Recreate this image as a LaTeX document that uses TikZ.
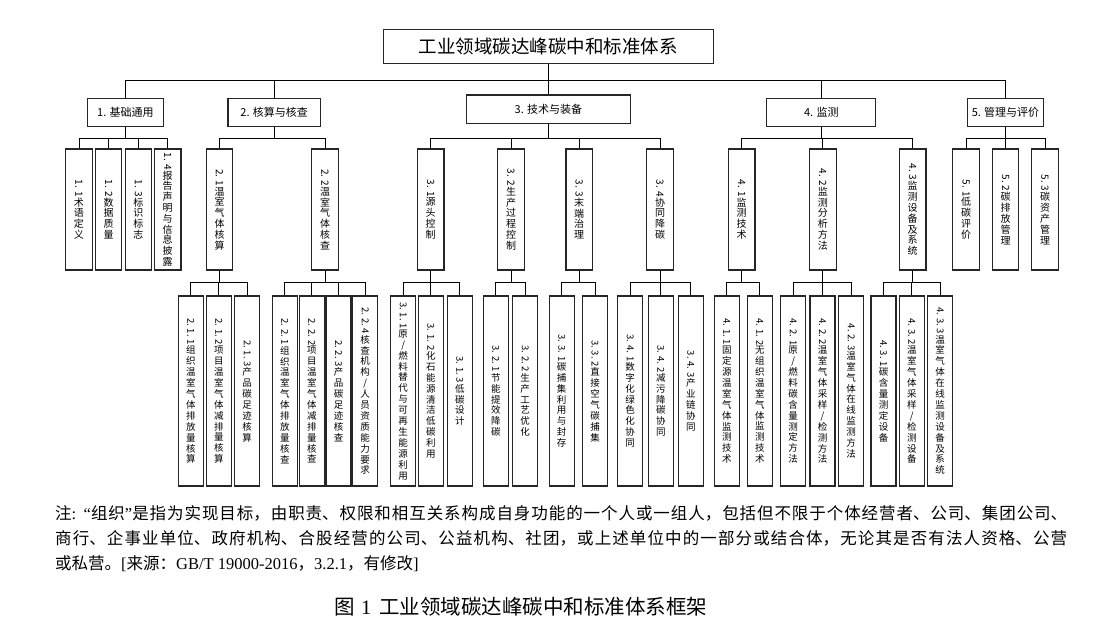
\documentclass[tikz,border=0pt]{standalone}
\usepackage{graphicx}
\usepackage{fontspec}
\setmainfont{Liberation Serif}
\newfontfamily\cjk{Noto Sans CJK SC}
\usetikzlibrary{positioning}

% vertical text: rotated number, then one character per line
\def\stackchars#1{\ifx\relax#1\expandafter\stackstop\else\expandafter\stackone\fi{#1}}
\def\stackone#1{\\#1\stackchars}
\def\stackstop#1{}
\newcommand\vlabel[2]{\rotatebox[origin=c]{-90}{#1}\stackchars#2\relax}

\begin{document}
\begin{tikzpicture}[x=1pt, y=-1pt,
    rootbox/.style={draw=black!85, line width=1.1pt, minimum width=329.6pt, minimum height=34pt,
      inner sep=0pt, font=\cjk\fontsize{18.5}{20}\selectfont},
    topicbox/.style={draw=black!85, line width=1.1pt, minimum height=28.4pt, inner sep=0pt,
      font=\cjk\fontsize{11}{13}\selectfont},
    colbox/.style={draw=black!85, line width=1.1pt, minimum width=26.5pt, minimum height=121pt,
      inner sep=0pt, align=center, font=\cjk\fontsize{10}{10.8}\selectfont},
    leafbox/.style={draw=black!85, line width=1.1pt, minimum width=25pt, minimum height=190pt,
      inner sep=0pt, align=center, font=\cjk\fontsize{9.5}{10.9}\selectfont},
    link/.style={draw=black, line width=0.8pt},
    elbow/.style={to path={(\tikztostart) |- (\tikztotarget |- #1) -- (\tikztotarget)}},
    notetext/.style={text width=1012pt, align=justify, inner sep=0pt,
      font=\cjk\fontsize{16.5}{25}\selectfont},
    captiontext/.style={inner sep=0pt, font=\cjk\fontsize{20.5}{22}\selectfont}]
  \useasboundingbox (0,0) rectangle (1108,634);

  \coordinate (bustop) at (0,80);
  \coordinate (busmid) at (0,138.3);
  \coordinate (buslow) at (0,282);

  \node[rootbox] (system) at (548.4,46.3) {工业领域碳达峰碳中和标准体系};

  \node[topicbox, minimum width=75.7pt] (basics) at (125.4,112.5) {1. 基础通用};
  \node[topicbox, minimum width=92.5pt] (accounting) at (274.2,112.5) {2. 核算与核查};
  \node[topicbox, minimum width=164.6pt] (technology) at (548.4,109.2) {3. 技术与装备};
  \node[topicbox, minimum width=109pt] (monitoring) at (821.3,112.5) {4. 监测};
  \node[topicbox, minimum width=76pt] (management) at (1005.5,112.5) {5. 管理与评价};

  \node[colbox] (terms) at (78.9,209.5) {\vlabel{1. 1}{术语定义}};
  \node[colbox] (dataq) at (108.6,209.5) {\vlabel{1. 2}{数据质量}};
  \node[colbox] (labels) at (138.4,209.5) {\vlabel{1. 3}{标识标志}};
  \node[colbox] (reports) at (167.7,209.5) {\vlabel{1. 4}{报告声明与信息披露}};
  \node[colbox] (ghgcalc) at (219.5,209.5) {\vlabel{2. 1}{温室气体核算}};
  \node[colbox] (ghgcheck) at (325,209.5) {\vlabel{2. 2}{温室气体核查}};
  \node[colbox] (source) at (430.7,209.5) {\vlabel{3. 1}{源头控制}};
  \node[colbox] (process) at (511,209.5) {\vlabel{3. 2}{生产过程控制}};
  \node[colbox] (endpipe) at (579.2,209.5) {\vlabel{3. 3}{末端治理}};
  \node[colbox] (synergy) at (660,209.5) {\vlabel{3. 4}{协同降碳}};
  \node[colbox] (montech) at (741.7,209.5) {\vlabel{4. 1}{监测技术}};
  \node[colbox] (analysis) at (822.8,209.5) {\vlabel{4. 2}{监测分析方法}};
  \node[colbox] (devices) at (912.7,209.5) {\vlabel{4. 3}{监测设备及系统}};
  \node[colbox] (lowcarbon) at (966,209.5) {\vlabel{5. 1}{低碳评价}};
  \node[colbox] (emission) at (1005.6,209.5) {\vlabel{5. 2}{碳排放管理}};
  \node[colbox] (assets) at (1045,209.5) {\vlabel{5. 3}{碳资产管理}};

  \node[leafbox] (orgcalc) at (190.8,391) {\vlabel{2. 1. 1}{组织温室气体排放量核算}};
  \node[leafbox] (projcalc) at (218.8,391) {\vlabel{2. 1. 2}{项目温室气体减排量核算}};
  \node[leafbox] (prodcalc) at (247.2,391) {\vlabel{2. 1. 3}{产品碳足迹核算}};
  \node[leafbox] (orgcheck) at (284.8,391) {\vlabel{2. 2. 1}{组织温室气体排放量核查}};
  \node[leafbox] (projcheck) at (311.8,391) {\vlabel{2. 2. 2}{项目温室气体减排量核查}};
  \node[leafbox] (prodcheck) at (338.5,391) {\vlabel{2. 2. 3}{产品碳足迹核查}};
  \node[leafbox] (agency) at (365.2,391) {\vlabel{2. 2. 4}{核查机构/人员资质能力要求}};
  \node[leafbox] (fuelsub) at (403.2,391) {\vlabel{3. 1. 1}{原/燃料替代与可再生能源利用}};
  \node[leafbox] (fossil) at (430.8,391) {\vlabel{3. 1. 2}{化石能源清洁低碳利用}};
  \node[leafbox] (design) at (459.8,391) {\vlabel{3. 1. 3}{低碳设计}};
  \node[leafbox] (saving) at (495.8,391) {\vlabel{3. 2. 1}{节能提效降碳}};
  \node[leafbox] (craft) at (525.2,391) {\vlabel{3. 2. 2}{生产工艺优化}};
  \node[leafbox] (ccus) at (561.7,391) {\vlabel{3. 3. 1}{碳捕集利用与封存}};
  \node[leafbox] (dac) at (595,391) {\vlabel{3. 3. 2}{直接空气碳捕集}};
  \node[leafbox] (digital) at (630.2,391) {\vlabel{3. 4. 1}{数字化绿色化协同}};
  \node[leafbox] (pollution) at (660.8,391) {\vlabel{3. 4. 2}{减污降碳协同}};
  \node[leafbox] (chain) at (690.8,391) {\vlabel{3. 4. 3}{产业链协同}};
  \node[leafbox] (fixed) at (726.8,391) {\vlabel{4. 1. 1}{固定源温室气体监测技术}};
  \node[leafbox] (fugitive) at (759.8,391) {\vlabel{4. 1. 2}{无组织温室气体监测技术}};
  \node[leafbox] (fuelcarbon) at (793.2,391) {\vlabel{4. 2. 1}{原/燃料碳含量测定方法}};
  \node[leafbox] (sampling) at (822.5,391) {\vlabel{4. 2. 2}{温室气体采样/检测方法}};
  \node[leafbox] (online) at (851.2,391) {\vlabel{4. 2. 3}{温室气体在线监测方法}};
  \node[leafbox] (carbondev) at (883.5,391) {\vlabel{4. 3. 1}{碳含量测定设备}};
  \node[leafbox] (samplingdev) at (911.8,391) {\vlabel{4. 3. 2}{温室气体采样/检测设备}};
  \node[leafbox] (onlinedev) at (940.2,391) {\vlabel{4. 3. 3}{温室气体在线监测设备及系统}};

  \path[link, elbow=bustop]
    (system.south) edge (basics.north)
    (system.south) edge (accounting.north)
    (system.south) edge (technology.north)
    (system.south) edge (monitoring.north)
    (system.south) edge (management.north);
  \path[link, elbow=busmid]
    (basics.south) edge (terms.north)
    (basics.south) edge (dataq.north)
    (basics.south) edge (labels.north)
    (basics.south) edge (reports.north)
    (accounting.south) edge (ghgcalc.north)
    (accounting.south) edge (ghgcheck.north)
    (technology.south) edge (source.north)
    (technology.south) edge (process.north)
    (technology.south) edge (endpipe.north)
    (technology.south) edge (synergy.north)
    (monitoring.south) edge (montech.north)
    (monitoring.south) edge (analysis.north)
    (monitoring.south) edge (devices.north)
    (management.south) edge (lowcarbon.north)
    (management.south) edge (emission.north)
    (management.south) edge (assets.north);
  \path[link, elbow=buslow]
    (ghgcalc.south) edge (orgcalc.north)
    (ghgcalc.south) edge (projcalc.north)
    (ghgcalc.south) edge (prodcalc.north)
    (ghgcheck.south) edge (orgcheck.north)
    (ghgcheck.south) edge (projcheck.north)
    (ghgcheck.south) edge (prodcheck.north)
    (ghgcheck.south) edge (agency.north)
    (source.south) edge (fuelsub.north)
    (source.south) edge (fossil.north)
    (source.south) edge (design.north)
    (process.south) edge (saving.north)
    (process.south) edge (craft.north)
    (endpipe.south) edge (ccus.north)
    (endpipe.south) edge (dac.north)
    (synergy.south) edge (digital.north)
    (synergy.south) edge (pollution.north)
    (synergy.south) edge (chain.north)
    (montech.south) edge (fixed.north)
    (montech.south) edge (fugitive.north)
    (analysis.south) edge (fuelcarbon.north)
    (analysis.south) edge (sampling.north)
    (analysis.south) edge (online.north)
    (devices.south) edge (carbondev.north)
    (devices.south) edge (samplingdev.north)
    (devices.south) edge (onlinedev.north);

  \node[notetext, anchor=north west] (note) at (55,505) {\XeTeXlinebreaklocale "zh"\XeTeXlinebreakskip=0pt plus 2pt
    注{\rmfamily: “}组织{\rmfamily ”}是指为实现目标，由职责、权限和相互关系构成自身功能的一个人或一组人，包括但不限于个体经营者、公司、集团公司、\linebreak
    商行、企事业单位、政府机构、合股经营的公司、公益机构、社团，或上述单位中的一部分或结合体，无论其是否有法人资格、公营\linebreak
    或私营。{\rmfamily [}来源：{\rmfamily GB/T 19000-2016}，{\rmfamily 3.2.1}，有修改{\rmfamily ]}};

  \node[captiontext] (caption) at (521,606.5) {图\hspace{6pt}{\rmfamily 1}\hspace{8pt}工业领域碳达峰碳中和标准体系框架};
\end{tikzpicture}
\end{document}
